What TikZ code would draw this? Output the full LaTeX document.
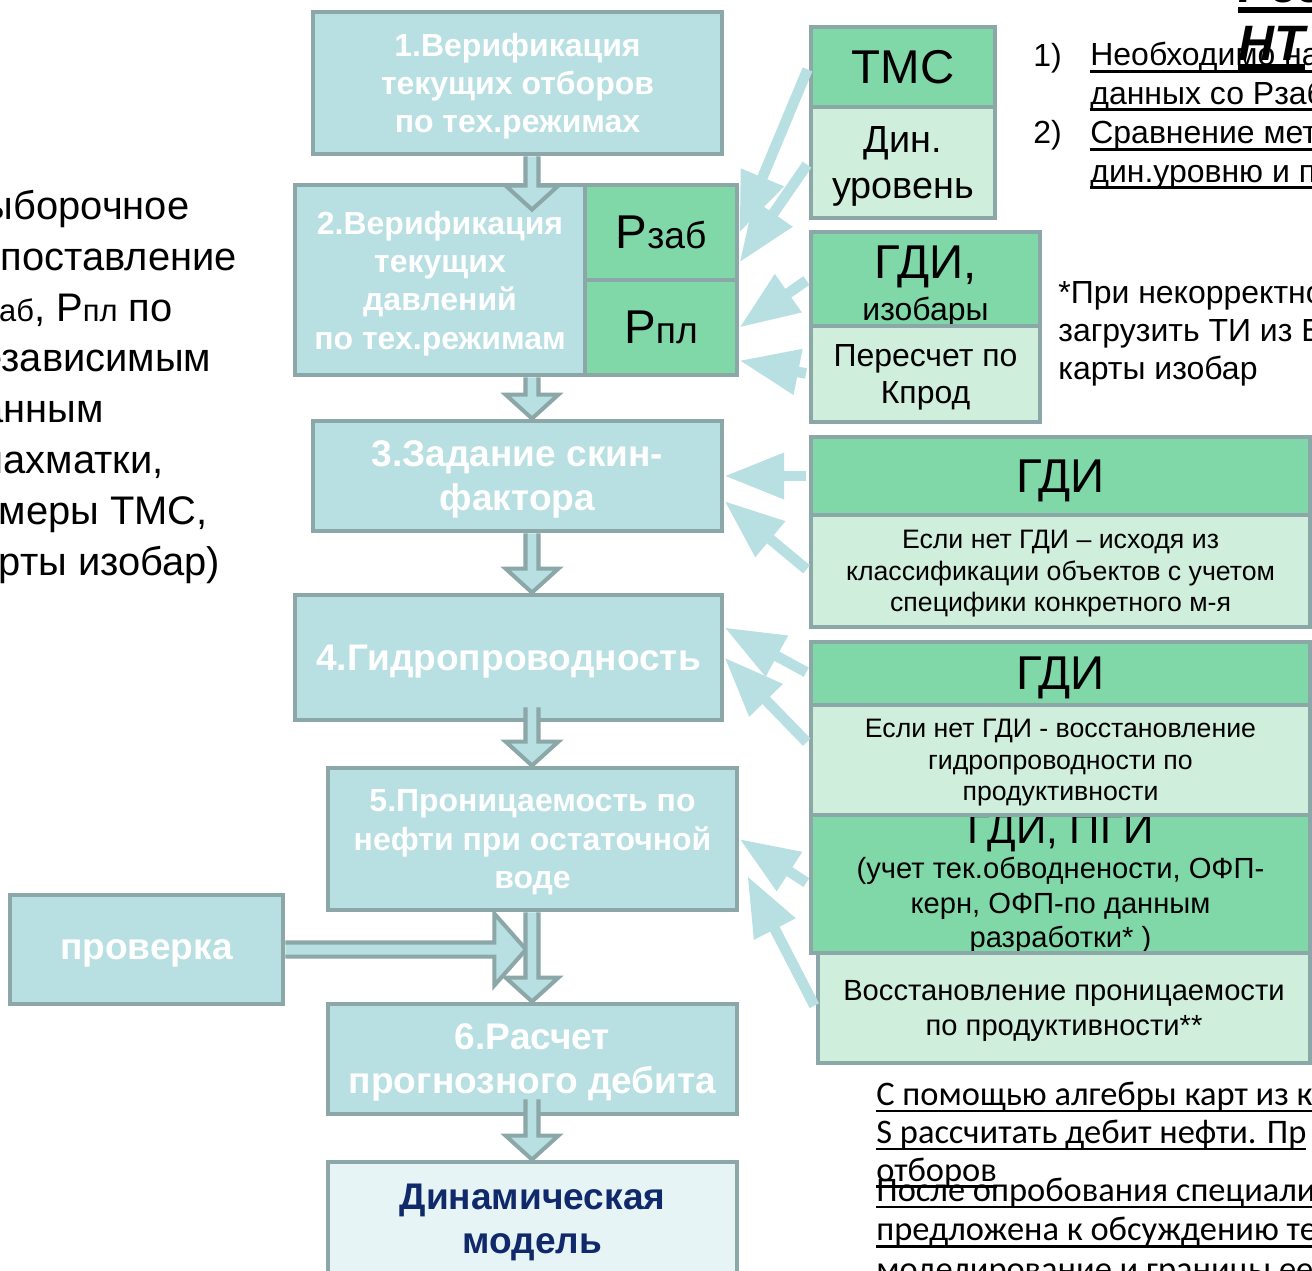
\documentclass[tikz,border=0pt]{standalone}
\usepackage{fontspec}
\setmainfont{Liberation Sans}
\newfontfamily\calibrifont{Carlito}
\usetikzlibrary{arrows.meta,calc,positioning}

\definecolor{edgegray}{HTML}{8BA7A8}
\definecolor{stepteal}{HTML}{B8DFE2}
\definecolor{datagreen}{HTML}{80D7A8}
\definecolor{notegreen}{HTML}{CFEEDC}
\definecolor{modelfill}{HTML}{E7F4F5}
\definecolor{navytext}{HTML}{10296B}

\newcommand{\pu}{0.02cm}
\newcommand{\fstep}{\fontsize{18.2pt}{21.8pt}\selectfont\bfseries}
\newcommand{\fstepbig}{\fontsize{21.1pt}{25pt}\selectfont\bfseries}
\newcommand{\fhuge}{\fontsize{27pt}{30pt}\selectfont}
\newcommand{\fmid}{\fontsize{18.2pt}{21.5pt}\selectfont}
\newcommand{\fsmall}{\fontsize{15.2pt}{18pt}\selectfont}
\newcommand{\fnote}{\fontsize{16.6pt}{19.8pt}\selectfont}
% underline bar, thickness as optional argument
\newcommand{\uln}[2][1.5pt]{\setbox0=\hbox{#2}\rlap{\rule[\dimexpr-2.5pt-#1\relax]{\wd0}{#1}}\box0}

% outlined block arrows of the main chain
\newcommand{\downflow}[2]{%
  \filldraw[flowshape] let \p1=#1, \p2=#2 in
    (\x1-3.7pt,\y1) -- (\x1-3.7pt,\y2+13.6pt) -- (\x1-15pt,\y2+13.6pt) -- (\x1,\y2)
    -- (\x1+15pt,\y2+13.6pt) -- (\x1+3.7pt,\y2+13.6pt) -- (\x1+3.7pt,\y1);}
\newcommand{\sideflow}[2]{%
  \filldraw[flowshape] let \p1=#1, \p2=#2 in
    (\x1,\y1+4pt) -- (\x2-18pt,\y1+4pt) -- (\x2-18pt,\y1+20.4pt) -- (\x2,\y1)
    -- (\x2-18pt,\y1-20.4pt) -- (\x2-18pt,\y1-4pt) -- (\x1,\y1-4pt);}

\tikzset{
  boxsize/.style 2 args={minimum width=#1*\pu, minimum height=#2*\pu},
  stepbox/.style={draw=edgegray, line width=2.8pt, fill=stepteal, text=white, align=center, inner sep=0pt, text depth=0pt},
  databox/.style={draw=edgegray, line width=2.8pt, fill=datagreen, text=black, align=center, inner sep=0pt, text depth=0pt},
  notebox/.style={draw=edgegray, line width=2.8pt, fill=notegreen, text=black, align=center, inner sep=0pt, text depth=0pt},
  feed/.style={draw=stepteal, line width=6pt, shorten <=1.5pt, -{Triangle[length=34pt,width=25pt]}},
  flowshape/.style={fill=stepteal, draw=edgegray, line width=2.3pt},
  plain/.style={inner sep=0pt, align=left},
}

\begin{document}
\begin{tikzpicture}[x=0.02cm, y=-0.02cm]
\useasboundingbox (0,0) rectangle (1312,1271);
\clip (0,0) rectangle (1312,1271);

% main chain
\node[stepbox, boxsize={409}{142}, font=\fstep] (verq) at (517.5,83) {1.Верификация\\текущих отборов\\по тех.режимах};
\node[stepbox, boxsize={290}{190}, font=\fstep] (verp) at (440,280) {2.Верификация\\текущих\\давлений\\по тех.режимам};
\node[databox, boxsize={152}{95}] (pzab) at (661,232.5) {\fhuge Р\fontsize{21.2pt}{24pt}\selectfont заб};
\node[databox, boxsize={152}{95}] (ppl) at (661,327.5) {\fhuge Р\fontsize{21.2pt}{24pt}\selectfont пл};
\node[stepbox, boxsize={409}{110}, font=\fstepbig] (skin) at (517.5,476) {3.Задание скин-\\фактора};
\node[stepbox, boxsize={427}{125}, font=\fstepbig] (hydro) at (508.5,657.5) {4.Гидропроводность};
\node[stepbox, boxsize={409}{142}, font=\fstep] (perm) at (532.5,839) {5.Проницаемость по\\нефти при остаточной\\воде};
\node[stepbox, boxsize={273}{109}, font=\fstepbig] (check) at (146.5,949.5) {проверка};
\node[stepbox, boxsize={409}{110}, font=\fstepbig] (rate) at (532.5,1059) {6.Расчет\\прогнозного дебита};
\node[stepbox, boxsize={409}{114}, font=\fstepbig, fill=modelfill, text=navytext] (model) at (532.5,1219) {Динамическая\\модель};

\coordinate (axis) at (532,0);
\sideflow{(check.east)}{($(axis |- check.east)+(-6,0)$)}
\downflow{(axis |- verq.south)}{($(axis |- verp.north)+(0,27)$)}
\downflow{(axis |- verp.south)}{(axis |- skin.north)}
\downflow{(axis |- skin.south)}{(axis |- hydro.north)}
\downflow{($(axis |- hydro.south)+(0,-15)$)}{(axis |- perm.north)}
\downflow{(axis |- perm.south)}{(axis |- rate.north)}
\downflow{($(axis |- rate.south)+(0,-17)$)}{(axis |- model.north)}

% source data
\node[databox, boxsize={184}{80}, font=\fhuge] (tms) at (903,67) {ТМС};
\node[notebox, boxsize={184}{111}, font=\fontsize{21.5pt}{26pt}\selectfont] (dyn) at (903,162.5) {Дин.\\уровень};
\node[databox, boxsize={229}{94}, text height=50.5pt, text depth=2.8pt] (gdiiso) at (925.5,279) {{\fhuge ГДИ,}\\[4.5pt]{\fmid изобары}};
\node[notebox, boxsize={229}{96}, font=\fmid] (recalc) at (925.5,374) {Пересчет по\\Кпрод};
\node[databox, boxsize={499}{78}, font=\fhuge] (gdiskin) at (1060.5,476) {ГДИ};
\node[notebox, boxsize={499}{112}, font=\fsmall] (noteskin) at (1060.5,571) {Если нет ГДИ – исходя из\\классификации объектов с учетом\\специфики конкретного м-я};
\node[databox, boxsize={499}{138}, text height=75.4pt, text depth=2.8pt, font=\fontsize{16.6pt}{19.8pt}\selectfont] (pgi) at (1060.5,884) {{\fontsize{24pt}{26pt}\selectfont ГДИ, ПГИ}\\(учет тек.обводнености, ОФП-\\керн, ОФП-по данным\\разработки* )};
\node[databox, boxsize={499}{63}, font=\fhuge] (gdihydro) at (1060.5,673.5) {ГДИ};
\node[notebox, boxsize={499}{110}, font=\fsmall] (notehydro) at (1060.5,760) {Если нет ГДИ - восстановление\\гидропроводности по\\продуктивности};
\node[notebox, boxsize={492}{110}, font=\fnote] (restore) at (1064,1008) {Восстановление проницаемости\\по продуктивности**};

\draw[feed] (tms.west) -- (pzab.east);
\draw[feed] (dyn.west) -- ($(pzab.east)+(0,30)$);
\draw[feed] (gdiiso.west) -- (ppl.east);
\draw[feed] (recalc.west) -- ($(ppl.east)+(0,33)$);
\draw[feed] (gdiskin.west) -- (skin.east);
\draw[feed] (noteskin.west) -- ($(skin.east)+(0,25)$);
\draw[feed] (gdihydro.west) -- ($(hydro.east)+(0,-30)$);
\draw[feed] ($(notehydro.west)+(0,-16)$) -- (hydro.east);
\draw[feed] (pgi.west) -- (perm.east);
\draw[feed] (restore.west) -- ($(perm.east)+(8,37)$);

% free text (base anchor sits on the last line)
\node[plain, anchor=base west, font=\fontsize{22.7pt}{28.9pt}\selectfont] (summary) at (-42,575)
  {Выборочное\\сопоставление\\Р{\fontsize{17.6pt}{20pt}\selectfont заб}, Р{\fontsize{17.6pt}{20pt}\selectfont пл} по\\независимым\\данным\\(шахматки,\\замеры ТМС,\\карты изобар)};
\node[plain, anchor=base west, font=\fontsize{18.2pt}{21.8pt}\selectfont] (num1) at (1033,66) {1)};
\node[plain, anchor=base west, font=\fontsize{18.2pt}{21.8pt}\selectfont] (num2) at (1033,143) {2)};
\node[plain, anchor=base west, font=\fontsize{18.2pt}{21.8pt}\selectfont] (item1) at (1090,104) {\uln{Необходимо на}\\\uln{данных со Рзаб}};
\node[plain, anchor=base west, font=\fontsize{18.2pt}{21.8pt}\selectfont] (item2) at (1090,182) {\uln{Сравнение мет}\\\uln{дин.уровню и п}};
\node[plain, anchor=base west, font=\fontsize{18.2pt}{21.5pt}\selectfont] (starnote) at (1058,379) {*При некорректно\\загрузить ТИ из Б\\карты изобар};
\node[plain, anchor=base west, font=\fontsize{28.3pt}{32pt}\selectfont\bfseries\itshape] (head1) at (1238,3) {\uln[3.4pt]{Рез}};
\node[plain, anchor=base west, font=\fontsize{28.3pt}{32pt}\selectfont\bfseries\itshape] (head2) at (1238,60) {\uln[3.4pt]{НТ}};
\node[plain, anchor=base west, font=\calibrifont\fontsize{19.6pt}{21.5pt}\selectfont] (algebra) at (876,1181) {\uln{С помощью алгебры карт из к}\\\uln{S рассчитать дебит нефти. Пр}\\\uln{отборов}};
\node[plain, anchor=base west, font=\calibrifont\fontsize{19.6pt}{22.4pt}\selectfont] (trial) at (876,1280) {\uln{После опробования специали}\\\uln{предложена к обсуждению тех}\\\uln{моделирование и границы ее}};
\end{tikzpicture}
\end{document}
